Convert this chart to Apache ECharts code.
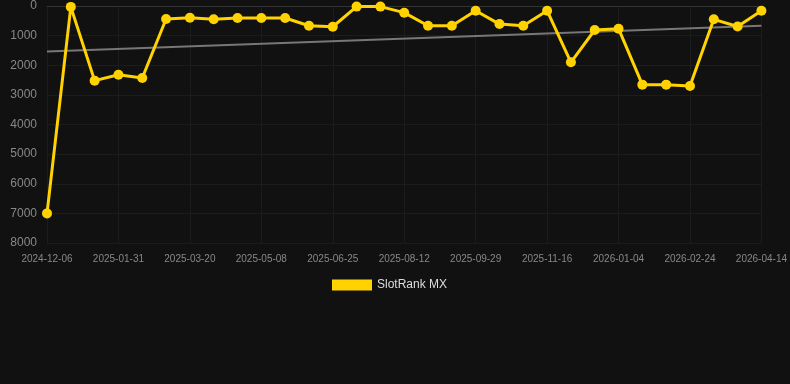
<!DOCTYPE html>
<html>
<head>
<meta charset="utf-8">
<script src="https://cdn.jsdelivr.net/npm/echarts@6/dist/echarts.min.js"></script>
<style>
html,body{margin:0;padding:0;background:#111111;}
#chart{width:790px;height:384px;}
</style>
</head>
<body>
<div id="chart"></div>
<script>
var dates = ['2024-12-06','2024-12-25','2025-01-13','2025-01-31','2025-02-16','2025-03-04','2025-03-20','2025-04-05','2025-04-22','2025-05-08','2025-05-24','2025-06-09','2025-06-25','2025-07-11','2025-07-27','2025-08-12','2025-08-28','2025-09-13','2025-09-29','2025-10-15','2025-10-31','2025-11-16','2025-12-02','2025-12-18','2026-01-04','2026-01-21','2026-02-07','2026-02-24','2026-03-12','2026-03-28','2026-04-14'];
var rankValues = [7000,30,2520,2320,2430,440,395,450,405,405,405,665,700,20,20,225,665,665,160,610,665,160,1900,810,765,2655,2655,2700,450,690,160];
var trendStart = 1540;
var trendEnd = 665;
var yTicks = [0,1000,2000,3000,4000,5000,6000,7000,8000];

var trendData = dates.map(function(d, i){
  if (i === 0) return trendStart;
  if (i === dates.length - 1) return trendEnd;
  return null;
});

var chart = echarts.init(document.getElementById('chart'));
chart.setOption({
  backgroundColor: '#111111',
  textStyle: {fontFamily: 'Liberation Sans, Arial, sans-serif'},
  animation: false,
  grid: {left: 47, right: 28, top: 6, bottom: 141, containLabel: false},
  legend: {
    data: ['SlotRank MX'],
    top: 274,
    left: 327,
    itemWidth: 40,
    itemHeight: 11,
    itemGap: 10,
    icon: 'rect',
    textStyle: {color: '#dddddd', fontSize: 12, fontFamily: 'Liberation Sans, Arial, sans-serif'}
  },
  xAxis: {
    type: 'category',
    data: dates,
    boundaryGap: false,
    axisLine: {show: true, lineStyle: {color: '#333333'}},
    axisTick: {show: false},
    axisLabel: {color: '#888888', fontSize: 10, interval: 2, margin: 11},
    splitLine: {show: true, interval: 2, lineStyle: {color: '#1c1c1c'}}
  },
  yAxis: {
    type: 'value',
    inverse: true,
    min: yTicks[0],
    max: yTicks[yTicks.length - 1],
    interval: 1000,
    axisLine: {show: false},
    axisTick: {show: false},
    axisLabel: {color: '#888888', fontSize: 12, margin: 10, formatter: function(v){ return String(v); }},
    splitLine: {show: true, lineStyle: {color: '#1c1c1c'}}
  },
  series: [
    {
      name: 'Trend',
      type: 'line',
      data: trendData,
      connectNulls: true,
      symbol: 'none',
      lineStyle: {color: '#777777', width: 2},
      z: 1
    },
    {
      name: 'SlotRank MX',
      type: 'line',
      data: rankValues,
      symbol: 'circle',
      symbolSize: 10,
      itemStyle: {color: '#ffd200'},
      lineStyle: {color: '#ffd200', width: 3},
      z: 3
    }
  ]
});
</script>
</body>
</html>
